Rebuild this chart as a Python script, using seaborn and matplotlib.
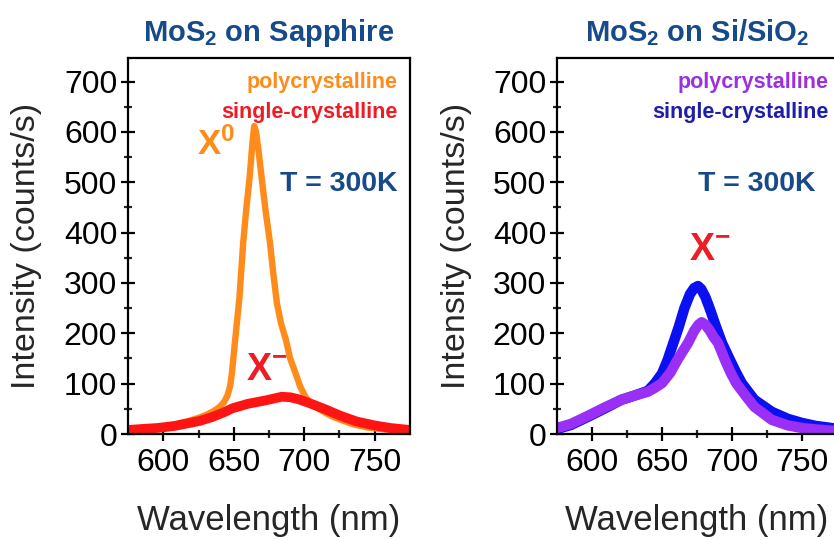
import numpy as np
import pandas as pd
import matplotlib
matplotlib.use("Agg")
import matplotlib.pyplot as plt
import seaborn as sns

# ---------------- data ----------------
sapph_poly_wl = [575, 590, 600, 610, 618, 625, 630.5, 636, 640, 643, 645.5, 647.5, 648.7, 651, 654, 656.7,
                 659, 661.3, 663.3, 664.5, 665.8, 667.5, 669.7, 672.5, 675.7, 678, 680.6, 683.5, 687, 690,
                 693.8, 697, 700.8, 704, 708, 712, 719, 726, 735, 745, 760, 775]
sapph_poly_val = [6, 10, 14, 20, 26, 32, 38, 46, 54, 63, 76, 96, 121, 187, 270, 380,
                  450, 511, 580, 612, 600, 565, 511, 445, 380, 320, 260, 220, 187, 150,
                  121, 95, 74, 63, 54, 47, 36, 28, 19, 13, 8, 5]

sapph_single_wl = [575, 585, 596, 608, 617, 626, 635, 643, 649, 660, 673, 684, 690, 696, 704, 715,
                   725, 737, 750, 761, 775]
sapph_single_val = [8, 10, 12, 16, 21, 26, 34, 43, 51, 60, 67, 74, 73, 69, 61, 49,
                    37, 25, 17, 12, 8]

si_single_wl = [575, 585, 597, 610, 621, 630, 640, 645, 650, 654, 658, 662, 666, 670, 673, 675.7, 678, 681,
                684, 688.6, 693, 698.6, 703, 707, 716, 728.5, 740, 750, 760, 771, 775]
si_single_val = [10, 18, 34, 52, 68, 76, 86, 101, 120, 147, 180, 213, 250, 278, 290, 294, 288, 272,
                 250, 213, 180, 147, 122, 101, 68, 44, 30, 22, 16, 12, 10]

si_poly_wl = [575, 585, 597, 610, 621, 630, 640, 645, 650, 656, 661, 665, 668.6, 673, 676, 678.4, 681, 684,
              687, 690, 695, 699, 703, 710, 716, 728.5, 740, 750, 760, 775]
si_poly_val = [12, 20, 36, 54, 68, 76, 84, 92, 101, 122, 147, 165, 181, 205, 217, 222, 217, 206,
               192, 181, 147, 122, 101, 75, 54, 28, 17, 12, 9, 6]

x_ticks = [600, 650, 700, 750]
y_ticks = [0, 100, 200, 300, 400, 500, 600, 700]

# ---------------- style ----------------
sns.set_style("white")
plt.rcParams['font.family'] = ['Liberation Sans', 'DejaVu Sans']
plt.rcParams['mathtext.fontset'] = 'custom'
plt.rcParams['mathtext.rm'] = 'Liberation Sans'
plt.rcParams['mathtext.it'] = 'Liberation Sans:italic'
plt.rcParams['mathtext.bf'] = 'Liberation Sans:bold'

C_TITLE = '#174A8B'
C_ORANGE = '#FF8C1A'
C_RED = '#FF1414'
C_RED_TXT = '#EE1C25'
C_PURPLE = '#9A2FF5'
C_PURPLE_TXT = '#9B30E0'
C_BLUE = '#0A10F0'
C_BLUE_TXT = '#1E1EA8'

fig = plt.figure(figsize=(8.34, 5.40), dpi=100)
W, H = 834, 540
def rect(x0, x1, y0, y1):
    return [x0 / W, 1 - y1 / H, (x1 - x0) / W, (y1 - y0) / H]

ax1 = fig.add_axes(rect(128, 410, 58, 434))
ax2 = fig.add_axes(rect(557, 837, 58, 434))

def frame(ax):
    ax.set_xlim(575, 775)
    ax.set_ylim(0, 747)
    ax.set_xticks(x_ticks)
    ax.set_yticks(y_ticks)
    ax.set_xticks([625, 675, 725], minor=True)
    ax.set_yticks([50, 150, 250, 350, 450, 550, 650], minor=True)
    ax.tick_params(which='major', direction='inout', length=9.5, width=1.6, labelsize=23,
                   pad=3, colors='black')
    ax.tick_params(axis='x', which='major', pad=5)
    ax.tick_params(which='minor', direction='inout', length=6, width=1.6)
    ax.tick_params(axis='x', which='both', bottom=True, top=False)
    ax.tick_params(axis='y', which='both', left=True, right=False)
    for s in ax.spines.values():
        s.set_linewidth(1.6)
        s.set_color('black')
    ax.set_xlabel('Wavelength (nm)', fontsize=25)
    ax.set_ylabel('Intensity (counts/s)', fontsize=24.5)
    ax.xaxis.set_label_coords(0.5, -0.185)
    ax.yaxis.set_label_coords(-0.305, 0.5)

# Left panel: sapphire
df1 = pd.DataFrame({'wl': sapph_poly_wl, 'val': sapph_poly_val})
df2 = pd.DataFrame({'wl': sapph_single_wl, 'val': sapph_single_val})
sns.lineplot(data=df1, x='wl', y='val', ax=ax1, color=C_ORANGE, linewidth=4.6, legend=False)
sns.lineplot(data=df2, x='wl', y='val', ax=ax1, color=C_RED, linewidth=7, legend=False)
frame(ax1)
ax1.set_title(r'MoS$_\mathbf{2}$ on Sapphire', fontsize=21, fontweight='bold', color=C_TITLE, pad=12)
ax1.text(0.955, 0.935, 'polycrystalline', transform=ax1.transAxes, ha='right', va='center',
         fontsize=15.5, fontweight='bold', color=C_ORANGE)
ax1.text(0.955, 0.855, 'single-crystalline', transform=ax1.transAxes, ha='right', va='center',
         fontsize=15.5, fontweight='bold', color=C_RED_TXT)
ax1.text(0.955, 0.665, 'T = 300K', transform=ax1.transAxes, ha='right', va='center',
         fontsize=20.5, fontweight='bold', color=C_TITLE)
ax1.text(0.245, 0.77, r'X$^\mathbf{0}$', transform=ax1.transAxes, ha='left', va='center',
         fontsize=25, fontweight='bold', color=C_ORANGE)
ax1.text(0.42, 0.17, r'X$^\mathbf{-}$', transform=ax1.transAxes, ha='left', va='center',
         fontsize=27, fontweight='bold', color=C_RED_TXT)

# Right panel: Si/SiO2
df3 = pd.DataFrame({'wl': si_single_wl, 'val': si_single_val})
df4 = pd.DataFrame({'wl': si_poly_wl, 'val': si_poly_val})
sns.lineplot(data=df3, x='wl', y='val', ax=ax2, color=C_BLUE, linewidth=7.5, legend=False)
sns.lineplot(data=df4, x='wl', y='val', ax=ax2, color=C_PURPLE, linewidth=7.5, legend=False)
frame(ax2)
ax2.set_title(r'MoS$_\mathbf{2}$ on Si/SiO$_\mathbf{2}$', fontsize=21, fontweight='bold', color=C_TITLE, pad=12)
ax2.text(0.97, 0.935, 'polycrystalline', transform=ax2.transAxes, ha='right', va='center',
         fontsize=15.5, fontweight='bold', color=C_PURPLE_TXT)
ax2.text(0.97, 0.855, 'single-crystalline', transform=ax2.transAxes, ha='right', va='center',
         fontsize=15.5, fontweight='bold', color=C_BLUE_TXT)
ax2.text(0.925, 0.665, 'T = 300K', transform=ax2.transAxes, ha='right', va='center',
         fontsize=20.5, fontweight='bold', color=C_TITLE)
ax2.text(0.47, 0.49, r'X$^\mathbf{-}$', transform=ax2.transAxes, ha='left', va='center',
         fontsize=27, fontweight='bold', color=C_RED_TXT)

fig.savefig('out.png', dpi=100, facecolor='white')
